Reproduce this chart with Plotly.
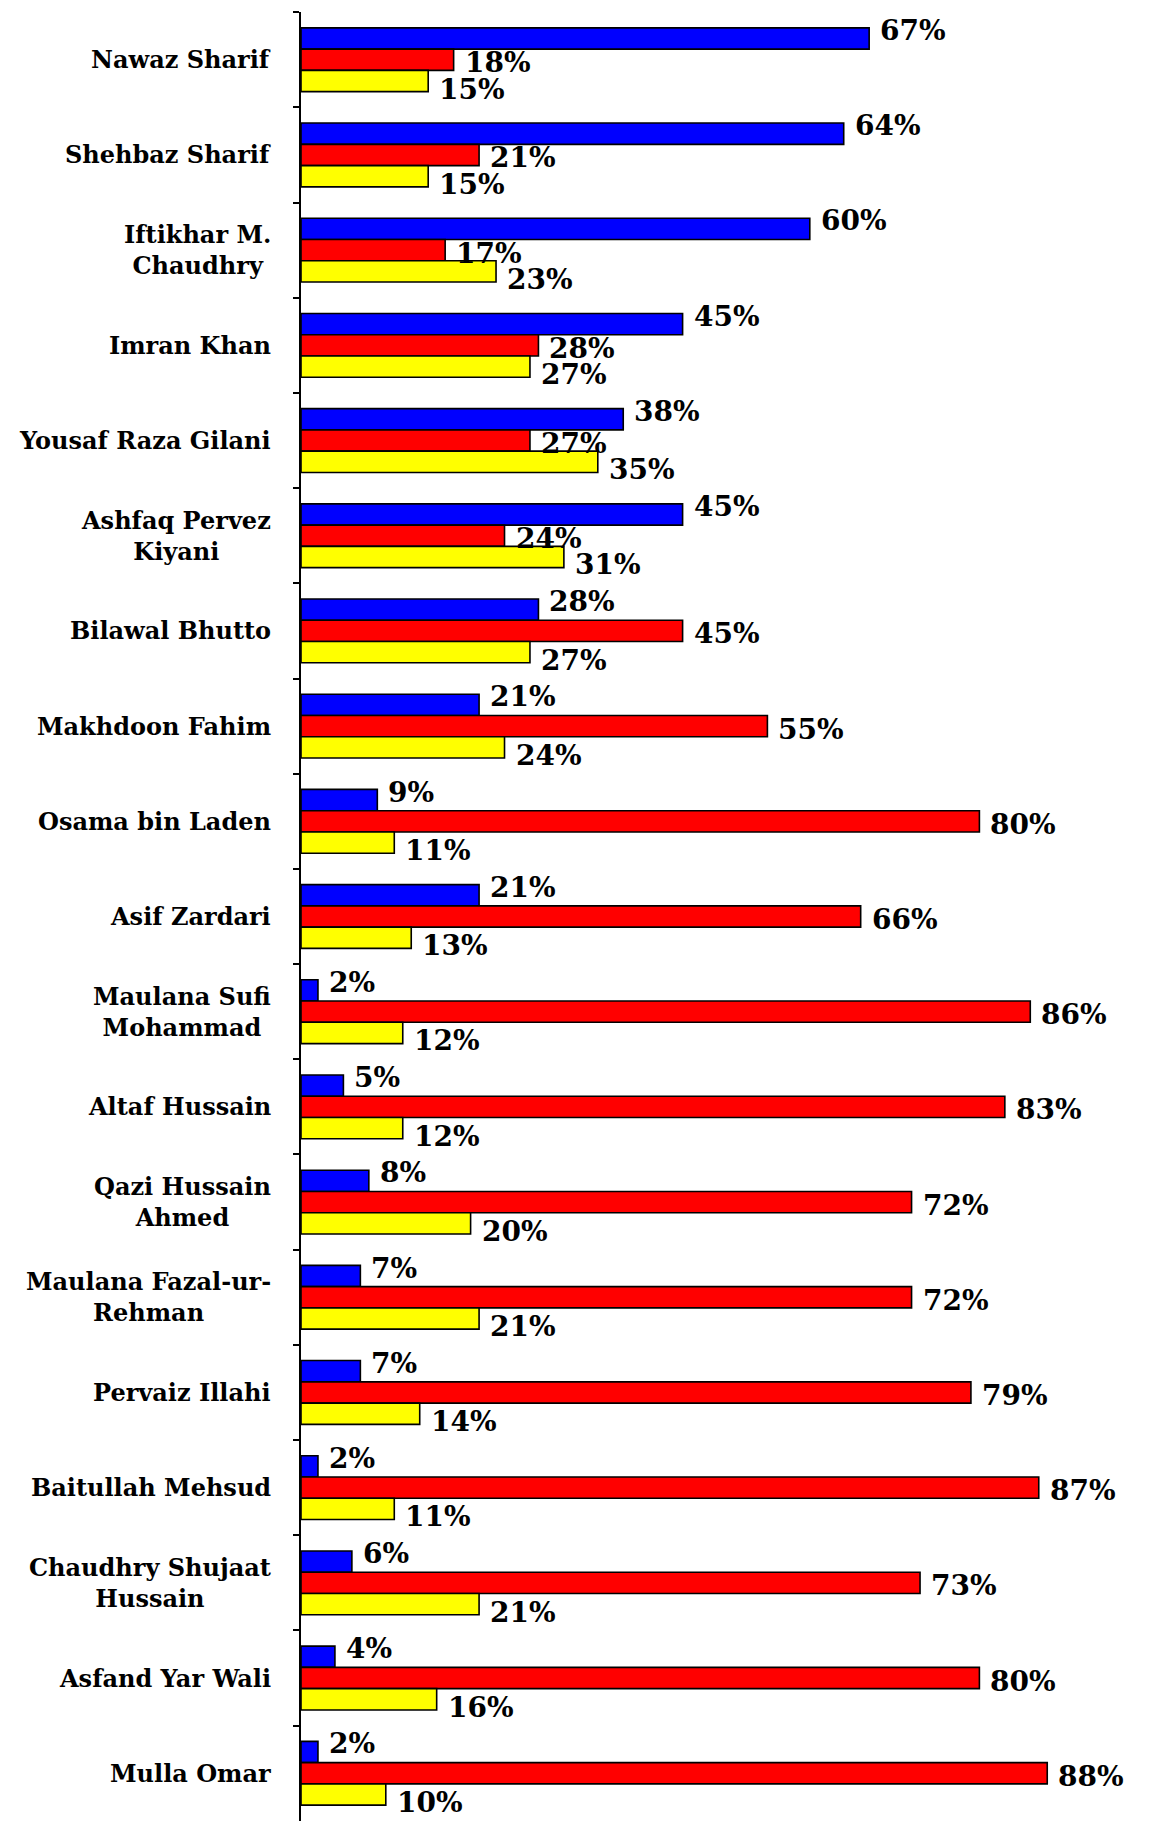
import plotly.graph_objects as go

categories = [
    "Nawaz Sharif", "Shehbaz Sharif", "Iftikhar M.<br>Chaudhry", "Imran Khan",
    "Yousaf Raza Gilani", "Ashfaq Pervez<br>Kiyani", "Bilawal Bhutto",
    "Makhdoon Fahim", "Osama bin Laden", "Asif Zardari",
    "Maulana Sufi<br>Mohammad", "Altaf Hussain", "Qazi Hussain<br>Ahmed",
    "Maulana Fazal-ur-<br>Rehman", "Pervaiz Illahi", "Baitullah Mehsud",
    "Chaudhry Shujaat<br>Hussain", "Asfand Yar Wali", "Mulla Omar",
]
blue_vals = [67, 64, 60, 45, 38, 45, 28, 21, 9, 21, 2, 5, 8, 7, 7, 2, 6, 4, 2]
red_vals = [18, 21, 17, 28, 27, 24, 45, 55, 80, 66, 86, 83, 72, 72, 79, 87, 73, 80, 88]
yellow_vals = [15, 15, 23, 27, 35, 31, 27, 24, 11, 13, 12, 12, 20, 21, 14, 11, 21, 16, 10]

FONT = "DejaVu Serif"
W, H = 1152, 1828
MARGIN = dict(l=293, r=11, t=4, b=15)
BARGAP = 0.33

# pixel thickness of one bar (for label placement relative to bar)
unit_px = (H - MARGIN["t"] - MARGIN["b"]) / len(categories)
bar_px = unit_px * (1 - BARGAP) / 3

series = [
    ("Blue", blue_vals, "#0000FF", bar_px + 8),
    ("Red", red_vals, "#FF0000", -3),
    ("Yellow", yellow_vals, "#FFFF00", -bar_px - 8),
]

fig = go.Figure()
for name, vals, color, yshift in series:
    fig.add_trace(go.Bar(
        name=name, y=categories, x=vals, orientation="h",
        marker=dict(color=color, line=dict(color="black", width=1.6)),
    ))
    for cat, v in zip(categories, vals):
        fig.add_annotation(
            x=v, y=cat, xref="x", yref="y", text=f"{v}%", showarrow=False,
            xanchor="left", yanchor="middle", xshift=9, yshift=yshift,
            font=dict(family=FONT, size=28, color="black", weight="bold"),
        )

for cat in categories:
    fig.add_annotation(
        x=0, xref="paper", y=cat, yref="y", text=cat, showarrow=False,
        xanchor="right", align="center", xshift=-28,
        font=dict(family=FONT, size=24, color="black", weight="bold"),
    )

fig.update_layout(
    width=W, height=H,
    margin=MARGIN,
    barmode="group", bargap=BARGAP, bargroupgap=0,
    showlegend=False,
    plot_bgcolor="white", paper_bgcolor="white",
)
fig.update_xaxes(range=[0, 100], visible=False)
fig.update_yaxes(
    autorange="reversed", showticklabels=False, showline=True,
    linecolor="black", linewidth=2, ticks="outside", tickson="boundaries",
    ticklen=6, tickwidth=2, tickcolor="black", showgrid=False,
)

fig.write_html("out.html")
